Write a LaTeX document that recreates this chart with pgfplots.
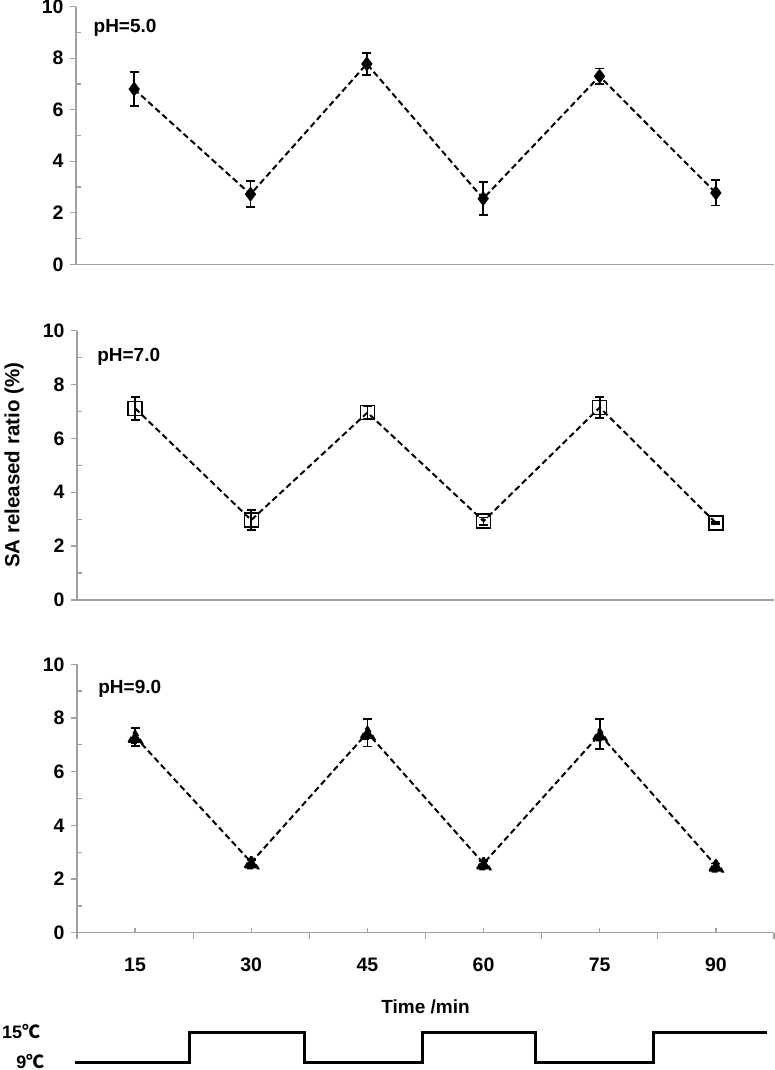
\documentclass[border=0pt]{standalone}
\usepackage{pgfplots}
\pgfplotsset{compat=1.18}
\usepackage{fontspec}
\setmainfont{Liberation Sans}
\newfontfamily\cjk{Noto Sans CJK SC}
\definecolor{axgray}{RGB}{160,160,160}
\tikzset{phlab/.style={anchor=base west, inner sep=0pt, font=\fontsize{19}{21}\selectfont\bfseries}}
\begin{document}
\begin{tikzpicture}
\useasboundingbox (0pt,0pt) rectangle (775pt,-1070pt);
\pgfplotsset{
  panel/.style={
    scale only axis, xmin=-0.5, xmax=5.5, ymin=0, ymax=10,
    axis x line*=bottom, axis y line*=left,
    axis line style={draw=axgray, line width=1.3pt},
    ytick={0,2,...,10}, minor ytick={1,3,...,9},
    tick align=outside, major tick length=6pt, minor tick length=5pt,
    tick style={draw=axgray, line width=1.3pt},
    minor y tick style={xshift=5pt},
    xtick=\empty,
    /pgf/number format/assume math mode=true,
    tick label style={font=\fontsize{19.5}{21}\selectfont\bfseries},
    yticklabel style={xshift=-3pt},
    clip=false,
  },
  ser/.style={black, line width=2pt, dash pattern=on 6pt off 3.5pt,
    mark options={solid, line width=1.3pt},
    error bars/y dir=both, error bars/y explicit,
    error bars/error bar style={solid, line width=1.8pt},
    error bars/error mark options={solid, rotate=90, mark size=4.5pt, line width=1.8pt}},
}
% pH 5.0
\begin{axis}[panel, anchor=north west, at={(76pt,-6.7pt)}, width=698pt, height=257.6pt]
\addplot[ser, mark=diamond*, mark size=6.5pt] coordinates {
 (0,6.80) +- (0,0.65)
 (1,2.72) +- (0,0.50)
 (2,7.78) +- (0,0.43)
 (3,2.55) +- (0,0.64)
 (4,7.30) +- (0,0.30)
 (5,2.77) +- (0,0.49)
};
\node[phlab] at (axis cs:-0.35,8.99) {pH=5.0};
\end{axis}
% pH 7.0
\begin{axis}[panel, anchor=north west, at={(77pt,-330.7pt)}, width=697pt, height=269.3pt,
  ylabel={SA released ratio (\%)},
  y label style={at={(axis description cs:-0.0903,0.5)}, anchor=center,
    font=\fontsize{20.5}{23}\selectfont\bfseries}]
\addplot[ser, mark=square, mark size=7pt] coordinates {
 (0,7.12) +- (0,0.43)
 (1,2.97) +- (0,0.37)
 (2,6.96) +- (0,0.24)
 (3,2.93) +- (0,0.13)
 (4,7.15) +- (0,0.40)
 (5,2.86) +- (0,0.05)
};
\node[phlab] at (axis cs:-0.327,8.85) {pH=7.0};
\end{axis}
% pH 9.0
\begin{axis}[panel, anchor=north west, at={(77pt,-664.3pt)}, width=697pt, height=268.4pt,
  xtick={-0.5,0.5,...,5.5}, xticklabels={},
  minor xtick={0,1,2,3,4,5}, minor x tick style={yshift=5pt},
  extra x ticks={0,1,2,3,4,5},
  extra x tick labels={15,30,45,60,75,90},
  extra x tick style={major tick length=0pt, tick label style={yshift=-22pt}},
  xlabel={Time /min},
  x label style={at={(axis description cs:0.5,0)}, anchor=center, yshift=-74pt,
    font=\fontsize{19}{21}\selectfont\bfseries}]
\addplot[ser, mark=triangle*, mark size=8pt, mark options={yshift=-2pt}] coordinates {
 (0,7.30) +- (0,0.33)
 (1,2.62) +- (0,0.10)
 (2,7.45) +- (0,0.51)
 (3,2.58) +- (0,0.08)
 (4,7.39) +- (0,0.56)
 (5,2.50) +- (0,0.08)
};
\node[phlab] at (axis cs:-0.318,8.92) {pH=9.0};
\end{axis}
% temperature program
\begin{axis}[scale only axis, anchor=south west, at={(77pt,-1062pt)}, width=697pt, height=30pt,
  xmin=-0.5, xmax=5.5, ymin=0, ymax=1, hide axis, clip=false]
\addplot[black, line width=3pt, line join=miter, mark=none] coordinates {
 (-0.52,0) (0.47,0) (0.47,1) (1.46,1) (1.46,0) (2.47,0) (2.47,1)
 (3.45,1) (3.45,0) (4.46,0) (4.46,1) (5.44,1)
};
\node[anchor=base east, inner sep=0pt, font=\fontsize{18}{20}\selectfont\bfseries] at (axis cs:-0.815,0.8) {15{\cjk\bfseries ℃}};
\node[anchor=base east, inner sep=0pt, font=\fontsize{18}{20}\selectfont\bfseries] at (axis cs:-0.78,-0.2) {9{\cjk\bfseries ℃}};
\end{axis}
\end{tikzpicture}
\end{document}
